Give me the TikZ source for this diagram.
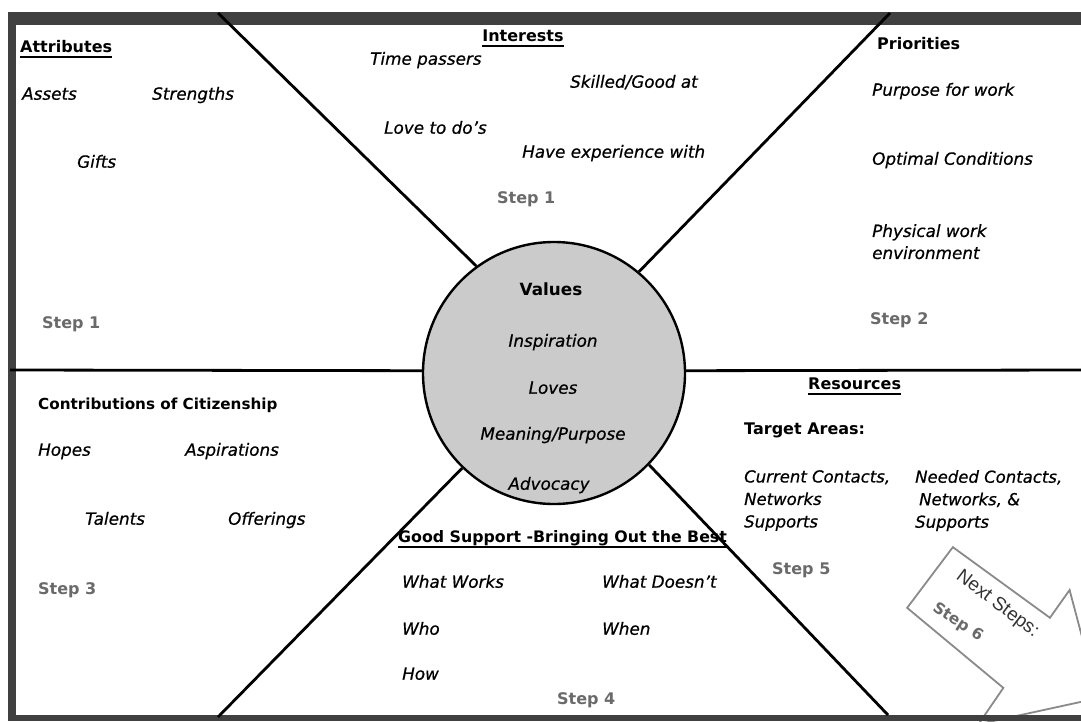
\documentclass[tikz,border=0pt]{standalone}
\usepackage{fontspec}
\setmainfont{DejaVu Sans}[ItalicFont={DejaVu Sans Oblique},BoldFont={DejaVu Sans Bold},BoldItalicFont={DejaVu Sans Bold Oblique},ItalicFeatures={FakeBold=0.6}]
\newfontfamily\helv{Liberation Sans}
\definecolor{framegray}{HTML}{404040}
\definecolor{circfill}{HTML}{CBCBCB}
\definecolor{stepgray}{HTML}{6A6A6A}
\definecolor{arrowgray}{HTML}{8A8A8A}
\definecolor{nexttext}{HTML}{333333}
\begin{document}
\begin{tikzpicture}[x=1pt,y=-1pt,
  itx/.style={font=\fontsize{16.8}{19}\selectfont\itshape, inner sep=0pt, anchor=mid west},
  itml/.style={font=\fontsize{16.8}{22}\selectfont\itshape, inner sep=0pt, anchor=north west, align=left},
  bdx/.style={font=\fontsize{16}{18}\selectfont\bfseries, inner sep=0pt, anchor=mid west},
  stepx/.style={font=\fontsize{16}{19}\selectfont\bfseries, text=stepgray, inner sep=0pt, anchor=mid west},
  divider/.style={line width=2.8pt, black},
  uline/.style={line width=1.6pt, black},
  bandfill/.style={fill=framegray},
  arrowline/.style={draw=arrowgray, line width=1.8pt, fill=white, line join=miter}
]
\useasboundingbox (0,0) rectangle (1081,721);
\fill[white] (0,0) rectangle (1081,721);

% Next steps arrow
\begin{scope}
\clip (0,0) rectangle (1081,721);
\begin{scope}[shift={(930,577.5)}, rotate=-37]
  \draw[arrowline] (0,-38) -- (120,-40) -- (119,-74) -- (207,-5) -- (127,88) -- (125,44) -- (0,38) -- cycle;
  \node[rotate=-37, font=\fontsize{19}{22}\helv, text=nexttext, inner sep=0pt] (next) at (70,-19) {Next Steps:};
  \node[rotate=-33, font=\fontsize{15.5}{19}\selectfont\bfseries, text=stepgray, inner sep=0pt] (step6) at (49,19) {Step 6};
\end{scope}
\end{scope}

% frame
\fill[bandfill] (8,12) rectangle (1081,25);
\fill[bandfill] (8,12) rectangle (16,721);
\fill[bandfill] (8,715) rectangle (1081,721);

% centre circle
\node[circle, draw=black, line width=2.4pt, fill=circfill, minimum size=262pt, inner sep=0pt] (val) at (554,373) {};

% divider end points
\coordinate (ul) at (218,13);
\coordinate (ur) at (890,13);
\coordinate (ll) at (218,717);
\coordinate (lr) at (888,715);
\coordinate (hl) at (10,370);
\coordinate (hr) at (1081,370);

\draw[divider] (ul) -- (val.126.5);
\draw[divider] (ur) -- (val.50.5);
\draw[divider] (ll) -- (val.226);
\draw[divider] (lr) -- (val.316.5);
\draw[divider] (hl) -- (val.179);
\draw[divider] (val.1) -- (hr);

% Attributes
\node[bdx] (attr) at (20,50) {Attributes};
\draw[uline] ([yshift=-4pt]attr.base west) -- ([yshift=-4pt]attr.base east);
\node[itx] (assets) at (22,97) {Assets};
\node[itx] (strengths) at (152,97) {Strengths};
\node[itx] (gifts) at (77,165) {Gifts};
\node[stepx] (stepA) at (42,326) {Step 1};

% Interests
\node[bdx, anchor=mid] (inter) at (523,39) {Interests};
\draw[uline] ([yshift=-4pt]inter.base west) -- ([yshift=-4pt]inter.base east);
\node[itx] (time) at (370,62) {Time passers};
\node[itx] (skilled) at (570,85) {Skilled/Good at};
\node[itx] (love) at (384,131) {Love to do's};
\node[itx] (exper) at (522,155) {Have experience with};
\node[stepx] (stepB) at (497,201) {Step 1};

% Priorities
\node[bdx] (prio) at (877,47) {Priorities};
\node[itx] (purpose) at (872,93) {Purpose for work};
\node[itx] (optimal) at (872,162) {Optimal Conditions};
\node[itml] (physical) at (872,224) {Physical work\\environment};
\node[stepx] (stepC) at (870,322) {Step 2};

% Values
\node[bdx, anchor=mid, font=\fontsize{16.8}{19}\selectfont\bfseries] (values) at (551,293) {Values};
\node[itx, anchor=mid] (inspir) at (553,344) {Inspiration};
\node[itx, anchor=mid] (loves) at (553,391) {Loves};
\node[itx, anchor=mid] (meaning) at (553,437) {Meaning/Purpose};
\node[itx, anchor=mid] (advoc) at (549,487) {Advocacy};

% Contributions
\node[bdx, font=\fontsize{15.2}{17}\selectfont\bfseries] (contrib) at (38,407) {Contributions of Citizenship};
\node[itx] (hopes) at (38,453) {Hopes};
\node[itx] (aspir) at (185,453) {Aspirations};
\node[itx] (talents) at (85,522) {Talents};
\node[itx] (offer) at (228,522) {Offerings};
\node[stepx] (stepD) at (38,592) {Step 3};

% Good support
\node[bdx, font=\fontsize{15.8}{18}\selectfont\bfseries] (good) at (398,540) {Good Support -Bringing Out the Best};
\draw[uline] ([yshift=-4pt]good.base west) -- ([yshift=-4pt]good.base east);
\node[itx] (works) at (402,585) {What Works};
\node[itx] (doesnt) at (602,585) {What Doesn't};
\node[itx] (who) at (402,632) {Who};
\node[itx] (when) at (602,632) {When};
\node[itx] (how) at (402,677) {How};
\node[stepx] (stepE) at (557,702) {Step 4};

% Resources
\node[bdx] (resour) at (808,387) {Resources};
\draw[uline] ([yshift=-4pt]resour.base west) -- ([yshift=-4pt]resour.base east);
\node[bdx] (target) at (744,432) {Target Areas:};
\node[itml, font=\fontsize{16.5}{22.5}\selectfont\itshape] (current) at (744,470) {Current Contacts,\\Networks\\Supports};
\node[itml, font=\fontsize{16.5}{22.5}\selectfont\itshape] (needed) at (915,470) {Needed Contacts,\\\hspace{4pt}Networks, \&\\Supports};
\node[stepx] (stepF) at (772,572) {Step 5};
\end{tikzpicture}
\end{document}
